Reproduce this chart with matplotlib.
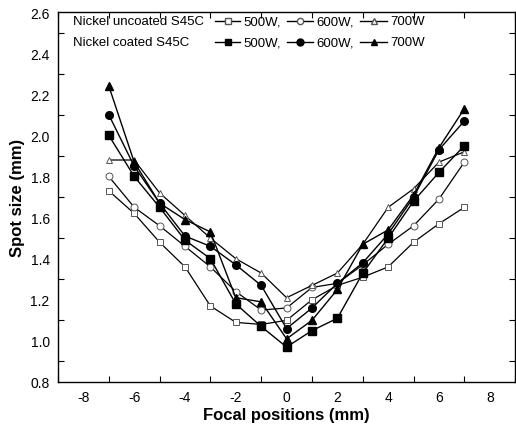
#!/usr/bin/env python
"""Spot size vs focal position for uncoated / nickel coated S45C."""
import matplotlib

matplotlib.use("Agg")
import matplotlib.pyplot as plt
from matplotlib.ticker import MultipleLocator, FormatStrFormatter

plt.rcParams["font.family"] = ["Liberation Sans", "DejaVu Sans"]
plt.rcParams["axes.unicode_minus"] = False

focal = [-7, -6, -5, -4, -3, -2, -1, 0, 1, 2, 3, 4, 5, 6, 7]

# uncoated S45C
unc_500 = [1.73, 1.62, 1.48, 1.36, 1.17, 1.09, 1.08, 1.10, 1.20, 1.27, 1.31, 1.36, 1.48, 1.57, 1.65]
unc_600 = [1.80, 1.65, 1.56, 1.46, 1.36, 1.24, 1.15, 1.16, 1.26, 1.28, 1.37, 1.47, 1.56, 1.69, 1.87]
unc_700 = [1.88, 1.88, 1.72, 1.61, 1.50, 1.40, 1.33, 1.21, 1.27, 1.33, 1.47, 1.65, 1.74, 1.87, 1.92]

# nickel coated S45C
coat_500 = [2.00, 1.80, 1.65, 1.49, 1.40, 1.18, 1.07, 0.97, 1.05, 1.11, 1.33, 1.50, 1.68, 1.82, 1.95]
coat_600 = [2.10, 1.85, 1.67, 1.51, 1.46, 1.37, 1.27, 1.06, 1.16, 1.28, 1.38, 1.52, 1.70, 1.93, 2.07]
coat_700 = [2.24, 1.87, 1.67, 1.59, 1.53, 1.21, 1.19, 1.01, 1.10, 1.25, 1.47, 1.54, 1.71, 1.94, 2.13]

OPEN = dict(color="black", lw=0.9, mfc="white", mec="#555555", mew=0.7, ms=5)
FILLED = dict(color="black", lw=1.0, mfc="black", mec="black", ms=5.5)

series = [
    (unc_500, "s", OPEN, "500W,"),
    (unc_600, "o", OPEN, "600W,"),
    (unc_700, "^", OPEN, "700W"),
    (coat_500, "s", FILLED, "500W,"),
    (coat_600, "o", FILLED, "600W,"),
    (coat_700, "^", FILLED, "700W"),
]

fig = plt.figure(figsize=(5.16, 4.31), dpi=100)
ax = fig.add_axes([0.1124, 0.1114, 0.886, 0.8584])

for vals, mk, style, _ in series:
    ax.plot(focal, vals, marker=mk, **style, zorder=3)

ax.set_xlim(-9, 9)
ax.set_ylim(0.8, 2.6)
ax.xaxis.set_major_locator(MultipleLocator(2))
ax.xaxis.set_minor_locator(MultipleLocator(1))
ax.yaxis.set_major_locator(MultipleLocator(0.2))
ax.yaxis.set_minor_locator(MultipleLocator(0.1))
ax.yaxis.set_major_formatter(FormatStrFormatter("%.1f"))
ax.tick_params(which="both", direction="in", top=True, right=True, labelsize=10)
ax.tick_params(which="major", length=0, pad=6)
ax.tick_params(which="minor", length=4, width=0.8)
for sp in ax.spines.values():
    sp.set_linewidth(1.0)

ax.set_xlabel("Focal positions (mm)", fontsize=12, fontweight="bold", labelpad=2)
ax.set_ylabel("Spot size (mm)", fontsize=12, fontweight="bold", labelpad=4)


# hand-built legend block in axes coordinates
def ax_xy(px, py):
    return (px - 58) / 457.0, (383 - py) / 370.0


rows = [("Nickel uncoated S45C", 22, series[:3]), ("Nickel coated S45C", 43, series[3:])]
sym_x = [(215, 240, 243), (287, 313, 316), (360, 387, 390)]
for label, py, items in rows:
    x0, y0 = ax_xy(73, py)
    ax.text(x0, y0, label, transform=ax.transAxes, fontsize=9.5, ha="left", va="center")
    for (xa, xb, xt), (_, mk, style, txt) in zip(sym_x, items):
        a, yy = ax_xy(xa, py)
        b, _ = ax_xy(xb, py)
        m = (a + b) / 2
        ax.plot([a, b], [yy, yy], color="black", lw=1.0, transform=ax.transAxes, clip_on=False)
        ax.plot([m], [yy], marker=mk, ls="none", transform=ax.transAxes,
                mfc=style["mfc"], mec=style["mec"], ms=style["ms"] - 0.5, clip_on=False)
        t, _ = ax_xy(xt, py)
        ax.text(t, yy, txt, transform=ax.transAxes, fontsize=9.5, ha="left", va="center")

fig.savefig("out.png", dpi=100, facecolor="white")
